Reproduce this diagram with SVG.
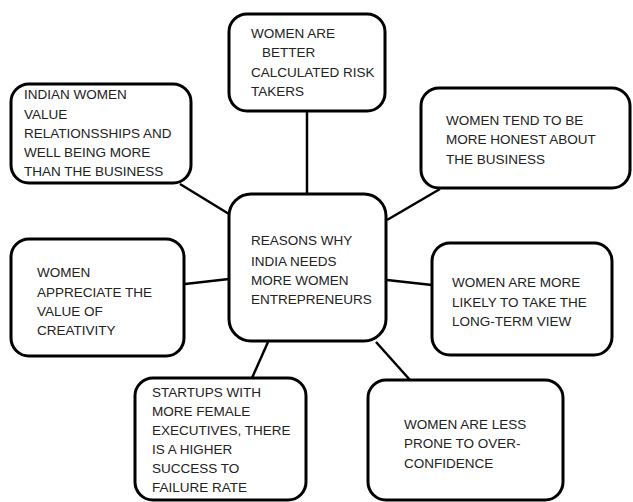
<svg xmlns="http://www.w3.org/2000/svg" width="633" height="502" viewBox="0 0 633 502">
<style>
.box{fill:#fff;stroke:#000;stroke-width:3}
.ln{stroke:#000;stroke-width:2.5;fill:none}
text{font-family:"Liberation Sans",Arial,sans-serif;font-size:13.5px;fill:#222}
</style>
<rect width="633" height="502" fill="#fff"/>
<g id="connectors">
<line class="ln" x1="307" y1="111" x2="307" y2="194"/>
<line class="ln" x1="180" y1="184" x2="229" y2="214"/>
<line class="ln" x1="440" y1="189" x2="387" y2="220"/>
<line class="ln" x1="185" y1="284" x2="229" y2="279"/>
<line class="ln" x1="387" y1="280" x2="432" y2="285"/>
<line class="ln" x1="268" y1="342" x2="252" y2="378"/>
<line class="ln" x1="376" y1="342" x2="410" y2="380"/>
</g>
<g id="node-top">
<rect class="box" x="229" y="14" width="156" height="97" rx="18"/>
<text x="251" y="38">WOMEN ARE</text>
<text x="262" y="57">BETTER</text>
<text x="251" y="77">CALCULATED RISK</text>
<text x="251" y="96">TAKERS</text>
</g>
<g id="node-top-left">
<rect class="box" x="11" y="84" width="180" height="99" rx="18"/>
<text x="24" y="99">INDIAN WOMEN</text>
<text x="24" y="119">VALUE</text>
<text x="24" y="138">RELATIONSSHIPS AND</text>
<text x="24" y="157">WELL BEING MORE</text>
<text x="24" y="176">THAN THE BUSINESS</text>
</g>
<g id="node-top-right">
<rect class="box" x="421" y="88" width="209" height="100" rx="18"/>
<text x="446" y="125">WOMEN TEND TO BE</text>
<text x="446" y="144">MORE HONEST ABOUT</text>
<text x="446" y="164">THE BUSINESS</text>
</g>
<g id="node-center">
<rect class="box" x="229" y="194" width="157" height="147" rx="22"/>
<text x="251" y="245">REASONS WHY</text>
<text x="251" y="266">INDIA NEEDS</text>
<text x="251" y="285">MORE WOMEN</text>
<text x="251" y="304">ENTREPRENEURS</text>
</g>
<g id="node-left">
<rect class="box" x="11" y="239" width="173" height="117" rx="18"/>
<text x="37" y="277">WOMEN</text>
<text x="37" y="297">APPRECIATE THE</text>
<text x="37" y="316">VALUE OF</text>
<text x="37" y="335">CREATIVITY</text>
</g>
<g id="node-right">
<rect class="box" x="432" y="243" width="180" height="112" rx="18"/>
<text x="452" y="287">WOMEN ARE MORE</text>
<text x="452" y="307">LIKELY TO TAKE THE</text>
<text x="452" y="326">LONG-TERM VIEW</text>
</g>
<g id="node-bottom-left">
<rect class="box" x="135" y="378" width="171" height="122" rx="18"/>
<text x="152" y="397">STARTUPS WITH</text>
<text x="152" y="416">MORE FEMALE</text>
<text x="152" y="435">EXECUTIVES, THERE</text>
<text x="152" y="454">IS A HIGHER</text>
<text x="152" y="473">SUCCESS TO</text>
<text x="152" y="492">FAILURE RATE</text>
</g>
<g id="node-bottom-right">
<rect class="box" x="368" y="380" width="195" height="120" rx="18"/>
<text x="404" y="429">WOMEN ARE LESS</text>
<text x="404" y="448">PRONE TO OVER-</text>
<text x="404" y="468">CONFIDENCE</text>
</g>
</svg>
